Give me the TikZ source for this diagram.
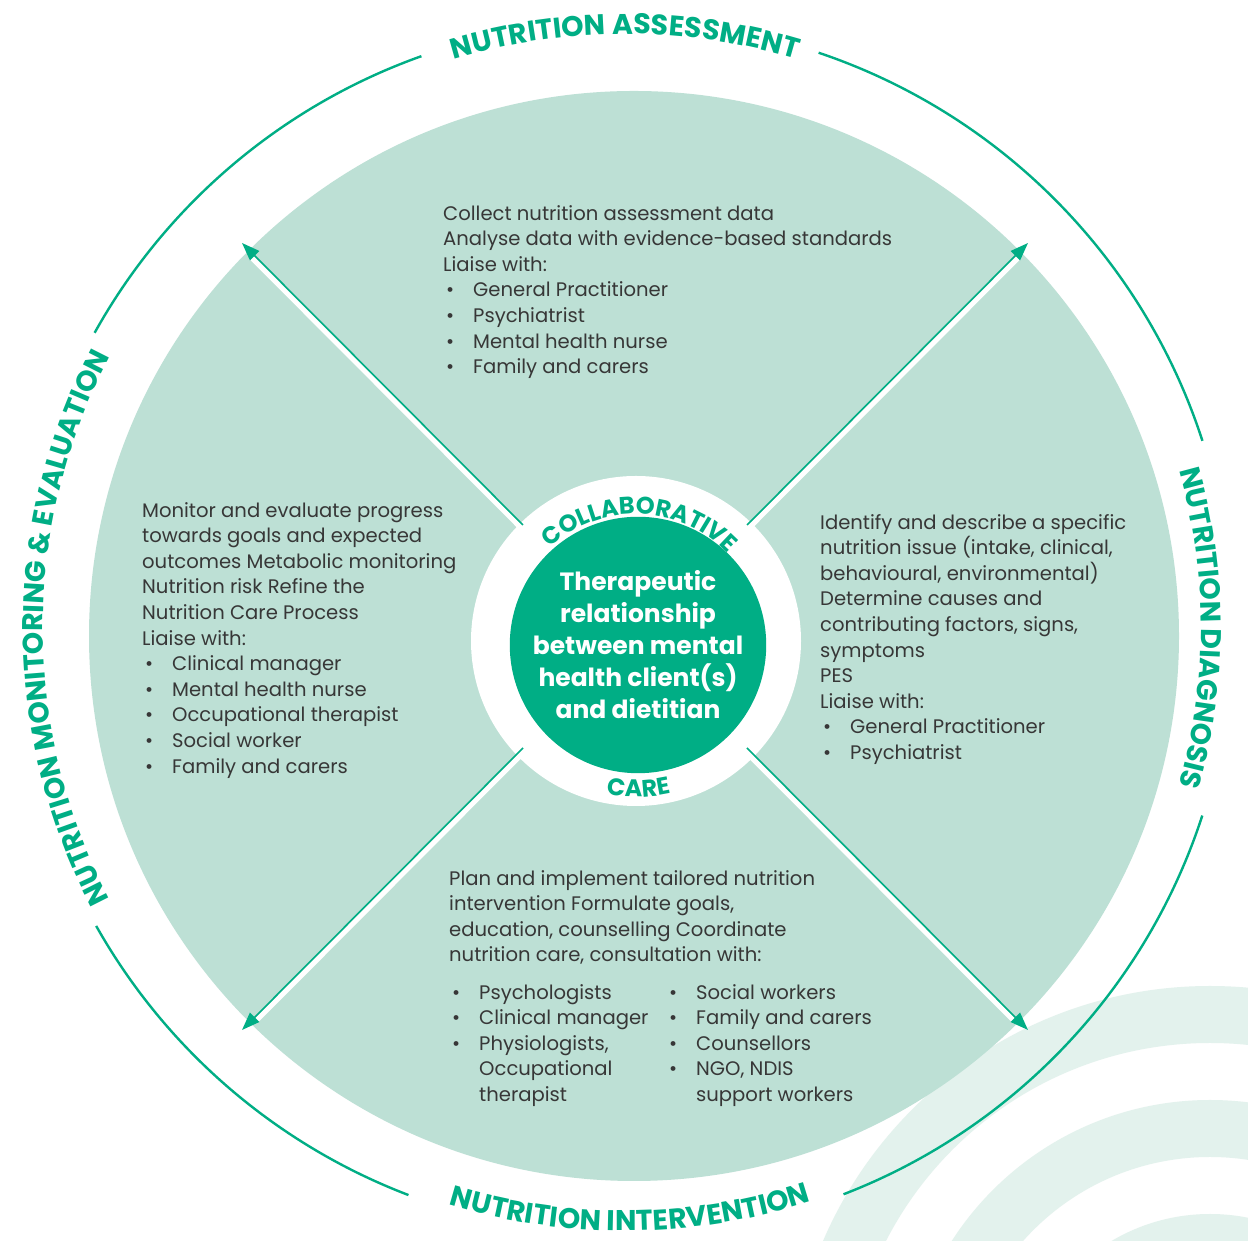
\documentclass[tikz,border=0pt]{standalone}
\usepackage{fontspec}
\setmainfont{Poppins}
\usetikzlibrary{arrows.meta,decorations.text,calc}
\definecolor{ringgreen}{RGB}{0,174,133}
\definecolor{petal}{RGB}{189,224,213}
\definecolor{wave}{RGB}{227,242,237}
\definecolor{ink}{RGB}{55,55,55}
\newcommand\bul{\hspace*{3pt}\makebox[27pt][l]{\textbullet}}
\newcommand\labelfont{\bfseries\fontsize{28.5}{28.5}\selectfont}
\newcommand\innerfont{\bfseries\fontsize{24}{24}\selectfont}
\begin{document}
\begin{tikzpicture}[x=1pt,y=1pt,
  body/.style={anchor=north west, inner sep=0pt, align=left, text=ink,
    font=\fontsize{19.6}{25.6}\selectfont},
  link/.style={color=ringgreen, line width=1.6pt, -{Triangle[length=18pt,width=13pt]}},
  glint/.style={draw=white, line width=5pt, shorten >=16pt},
  cycle arc/.style={draw=ringgreen, line width=2.4pt},
  arc label/.style={decorate, decoration={text along path, text align=center,
    text color=ringgreen, text={#1}}},
]
\useasboundingbox (0,0) rectangle (1248,1241);
\fill[white] (0,0) rectangle (1248,1241);

% light waves in the lower right corner
\coordinate (waveC) at (1210,-166);
\begin{scope}
  \clip (0,0) rectangle (1248,1241);
  \fill[wave, even odd rule] (waveC) circle[radius=421] (waveC) circle[radius=364];
  \fill[wave, even odd rule] (waveC) circle[radius=307] (waveC) circle[radius=250];
  \fill[wave, even odd rule] (waveC) circle[radius=193] (waveC) circle[radius=136];
\end{scope}

% the big disc
\coordinate (hubC) at (634,605);
\fill[petal] (hubC) circle[radius=545];

% outer cycle arcs
\coordinate (ringC) at (625,613);
\draw[cycle arc] ($(ringC)+(109.6:607)$) arc[start angle=109.6, end angle=150.9, radius=607];
\draw[cycle arc] ($(ringC)+(17.96:607)$) arc[start angle=17.96, end angle=71.4, radius=607];
\draw[cycle arc] ($(ringC)+(-68.9:607)$) arc[start angle=-68.9, end angle=-18, radius=607];
\draw[cycle arc] ($(ringC)+(209.4:607)$) arc[start angle=209.4, end angle=249.1, radius=607];

% outer labels
\path[arc label={|\labelfont|NUTRITION ASSESSMENT}]
  ($(ringC)+(125:594)$) arc[start angle=125, end angle=55, radius=594];
\path[arc label={|\labelfont|NUTRITION DIAGNOSIS}]
  ($(ringC)+(30:576)$) arc[start angle=30, end angle=-30, radius=576];
\path[arc label={|\labelfont|NUTRITION MONITORING {\&} EVALUATION}]
  ($(ringC)+(215:582)$) arc[start angle=215, end angle=145, radius=582];
\path[arc label={|\labelfont|NUTRITION INTERVENTION}]
  ($(ringC)+(235.5:603)$) arc[start angle=235.5, end angle=305.5, radius=603];

% white collar and the central disc
\coordinate (coreC) at (636,600);
\fill[white] (coreC) circle[radius=165];
\node[circle, fill=ringgreen, minimum size=246pt, inner sep=0pt, text=white,
  align=center, font=\bfseries\fontsize{25}{32}\selectfont] (core) at (638,596)
  {Therapeutic\\relationship\\between mental\\health client(s)\\and dietitian};

\path[arc label={|\innerfont|COLLABORATIVE}]
  ($(coreC)+(150:127)$) arc[start angle=150, end angle=26, radius=127];
\path[arc label={|\innerfont|CARE}]
  ($(coreC)+(241:156)$) arc[start angle=241, end angle=301, radius=156];

% diagonal arrows
\coordinate (nwS) at (523,716);  \coordinate (nwT) at (242,998);
\coordinate (neS) at (747,716);  \coordinate (neT) at (1028,998);
\coordinate (swS) at (523,493);  \coordinate (swT) at (242,211);
\coordinate (seS) at (747,493);  \coordinate (seT) at (1028,211);
\draw[glint, transform canvas={shift={(-2.5,-2.5)}}] (nwS) -- (nwT);
\draw[glint, transform canvas={shift={(2.5,-2.5)}}] (neS) -- (neT);
\draw[glint, transform canvas={shift={(2.5,-2.5)}}] (swS) -- (swT);
\draw[glint, transform canvas={shift={(-2.5,-2.5)}}] (seS) -- (seT);
\draw[link] (nwS) -- (nwT);
\draw[link] (neS) -- (neT);
\draw[link] (swS) -- (swT);
\draw[link] (seS) -- (seT);

% quadrant texts
\node[body] (assess) at (443,1036) {Collect nutrition assessment data\\
  Analyse data with evidence-based standards\\
  Liaise with:\\
  \bul General Practitioner\\
  \bul Psychiatrist\\
  \bul Mental health nurse\\
  \bul Family and carers};

\node[body] (monitor) at (142,739) {Monitor and evaluate progress\\
  towards goals and expected\\
  outcomes Metabolic monitoring\\
  Nutrition risk Refine the\\
  Nutrition Care Process\\
  Liaise with:\\
  \bul Clinical manager\\
  \bul Mental health nurse\\
  \bul Occupational therapist\\
  \bul Social worker\\
  \bul Family and carers};

\node[body] (diagnose) at (820,727) {Identify and describe a specific\\
  nutrition issue (intake, clinical,\\
  behavioural, environmental)\\
  Determine causes and\\
  contributing factors, signs,\\
  symptoms\\
  PES\\
  Liaise with:\\
  \bul General Practitioner\\
  \bul Psychiatrist};

\node[body] (intervene) at (449,371) {Plan and implement tailored nutrition\\
  intervention Formulate goals,\\
  education, counselling Coordinate\\
  nutrition care, consultation with:};
\node[body] (teamA) at (449,257) {\bul Psychologists\\
  \bul Clinical manager\\
  \bul Physiologists,\\
  \hspace*{30pt}Occupational\\
  \hspace*{30pt}therapist};
\node[body] (teamB) at (666,257) {\bul Social workers\\
  \bul Family and carers\\
  \bul Counsellors\\
  \bul NGO, NDIS\\
  \hspace*{30pt}support workers};
\end{tikzpicture}
\end{document}
